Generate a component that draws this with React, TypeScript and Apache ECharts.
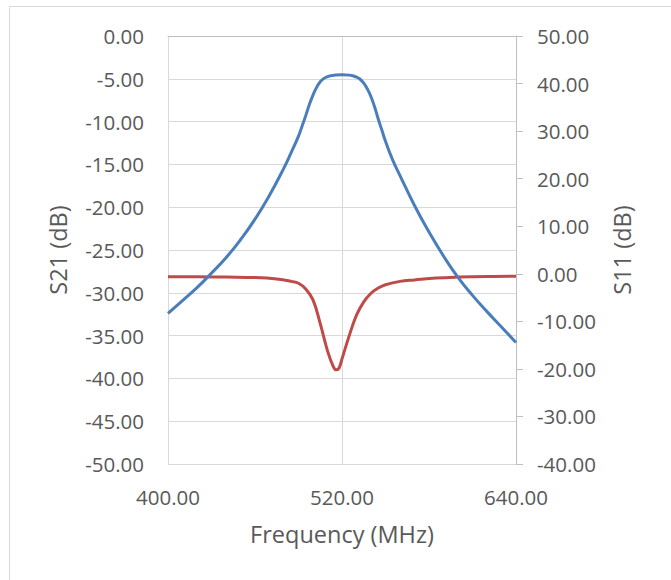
import React, { useEffect, useRef } from "react";
import * as echarts from "echarts";

const s21Freq = [400, 410, 420, 430, 440, 450, 460, 470, 480, 485, 490, 492.5, 495, 497.5, 500, 502.5, 505, 507.5, 510, 512.5, 515, 520, 525, 527.5, 530, 532.5, 535, 537.5, 540, 542.5, 545, 547.5, 550, 555, 560, 570, 580, 590, 600, 610, 620, 630, 640];
const s21Values = [-32.4, -30.9, -29.4, -27.7, -25.9, -23.8, -21.4, -18.6, -15.4, -13.6, -11.7, -10.5, -9.3, -8.0, -6.9, -6.0, -5.35, -4.95, -4.75, -4.63, -4.57, -4.53, -4.57, -4.65, -4.8, -5.05, -5.5, -6.2, -7.1, -8.3, -9.7, -11.0, -12.3, -14.5, -16.3, -19.8, -22.9, -25.7, -28.2, -30.3, -32.2, -34.0, -35.8];

const s11Freq = [400, 420, 440, 460, 475, 485, 490, 495, 500, 505, 510, 514, 516, 518, 520, 525, 530, 535, 540, 545, 550, 560, 570, 585, 600, 620, 640];
const s11Values = [-0.6, -0.6, -0.7, -0.8, -1.1, -1.6, -2.0, -3.2, -5.5, -10.5, -16.2, -19.5, -20.2, -19.8, -17.9, -13.0, -8.7, -5.9, -4.1, -3.0, -2.3, -1.6, -1.3, -0.9, -0.7, -0.55, -0.5];

const xTicks = { min: 400, max: 640, interval: 120 };
const leftTicks = { min: -50, max: 0, interval: 5 };
const rightTicks = { min: -40, max: 50, interval: 10 };

const xTitle = "Frequency (MHz)";
const leftTitle = "S21 (dB)";
const rightTitle = "S11 (dB)";

export default function App() {
  const ref = useRef<HTMLDivElement>(null);
  useEffect(() => {
    if (!ref.current) return;
    const chart = echarts.init(ref.current, null, { renderer: "svg" });
    const font = "Open Sans";
    const labelColor = "#595959";
    const fmt = (v: number) => v.toFixed(2);
    chart.setOption({
      animation: false,
      backgroundColor: "#ffffff",
      textStyle: { fontFamily: font },
      graphic: [
        {
          type: "rect",
          shape: { x: 9.5, y: 6.5, width: 900, height: 900 },
          style: { fill: "none", stroke: "#d9d9d9", lineWidth: 1 },
          silent: true,
        },
      ],
      grid: { left: 168, right: 155, top: 36, bottom: 116, containLabel: false },
      xAxis: {
        type: "value",
        min: xTicks.min,
        max: xTicks.max,
        interval: xTicks.interval,
        name: xTitle,
        nameLocation: "middle",
        nameGap: 58,
        nameTextStyle: { fontFamily: font, fontSize: 23.5, color: labelColor },
        axisLine: { show: true, lineStyle: { color: "#bfbfbf", width: 1 } },
        axisTick: { show: false },
        axisLabel: { formatter: fmt, fontFamily: font, fontSize: 20.5, color: labelColor, margin: 22 },
        splitLine: { show: true, lineStyle: { color: "#d9d9d9", width: 1 } },
      },
      yAxis: [
        {
          type: "value",
          position: "left",
          min: leftTicks.min,
          max: leftTicks.max,
          interval: leftTicks.interval,
          name: leftTitle,
          nameLocation: "middle",
          nameRotate: 90,
          nameGap: 98,
          nameTextStyle: { fontFamily: font, fontSize: 23.5, color: labelColor },
          axisLine: { show: false },
          axisTick: { show: false },
          axisLabel: { formatter: fmt, fontFamily: font, fontSize: 20.5, color: labelColor, margin: 24 },
          splitLine: { show: true, lineStyle: { color: "#d9d9d9", width: 1 } },
        },
        {
          type: "value",
          position: "right",
          min: rightTicks.min,
          max: rightTicks.max,
          interval: rightTicks.interval,
          name: rightTitle,
          nameLocation: "middle",
          nameRotate: 90,
          nameGap: 94,
          nameTextStyle: { fontFamily: font, fontSize: 23.5, color: labelColor },
          axisLine: { show: true, lineStyle: { color: "#bfbfbf", width: 1 } },
          axisTick: { show: true, inside: false, length: 7, lineStyle: { color: "#bfbfbf", width: 1 } },
          axisLabel: { formatter: fmt, fontFamily: font, fontSize: 20.5, color: labelColor, margin: 21 },
          splitLine: { show: false },
        },
      ],
      series: [
        {
          name: leftTitle,
          type: "line",
          yAxisIndex: 0,
          data: s21Freq.map((f, i) => [f, s21Values[i]]),
          smooth: 0.5,
          showSymbol: false,
          lineStyle: { color: "#4A7EBB", width: 3 },
          itemStyle: { color: "#4A7EBB" },
          z: 3,
        },
        {
          name: rightTitle,
          type: "line",
          yAxisIndex: 1,
          data: s11Freq.map((f, i) => [f, s11Values[i]]),
          smooth: 0.4,
          showSymbol: false,
          lineStyle: { color: "#BE4B48", width: 3 },
          itemStyle: { color: "#BE4B48" },
          z: 2,
        },
      ],
    });
    return () => chart.dispose();
  }, []);
  return (
    <div
      ref={ref}
      style={{ position: "fixed", left: 0, top: 0, width: 671, height: 580 }}
    />
  );
}
